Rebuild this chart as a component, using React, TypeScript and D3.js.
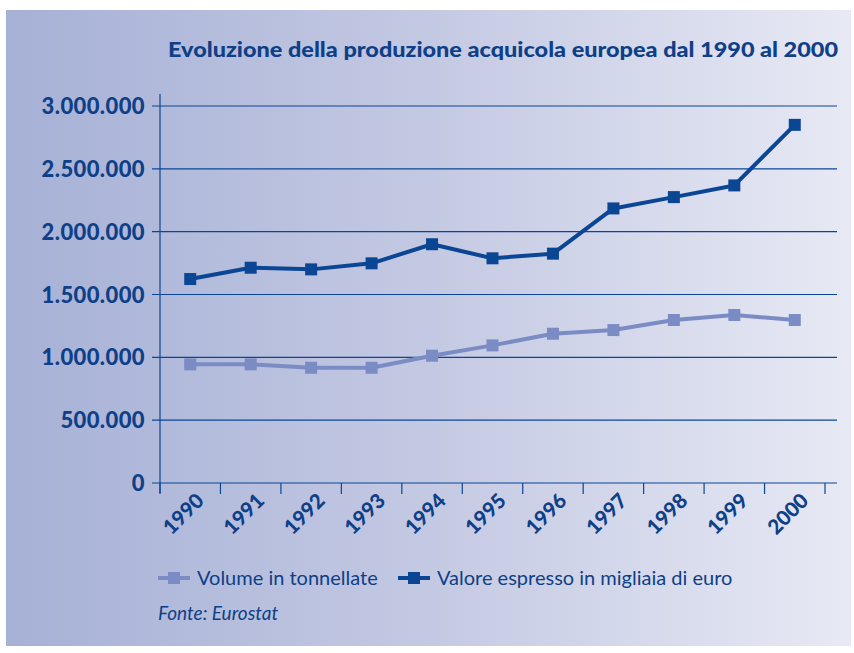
import React from "react";
import * as d3 from "d3";

const years = ["1990","1991","1992","1993","1994","1995","1996","1997","1998","1999","2000"];
const volume = [944000, 944000, 917000, 917000, 1013000, 1095000, 1188000, 1217000, 1297000, 1337000, 1297000];
const valore = [1623000, 1713000, 1700000, 1748000, 1900000, 1788000, 1825000, 2185000, 2275000, 2368000, 2850000];
const yTicks = [0, 500000, 1000000, 1500000, 2000000, 2500000, 3000000];
const seriesNames = ["Volume in tonnellate", "Valore espresso in migliaia di euro"];
const title = "Evoluzione della produzione acquicola europea dal 1990 al 2000";
const source = "Fonte: Eurostat";

const W = 854, H = 653;
const TEXT = "#0e3f87";
const DARK = "#0a4694";
const LIGHT = "#7b8cc4";
const FONT = "Lato, 'Open Sans', sans-serif";

export default function App() {
  const x0 = 160, x1 = 825;
  const xBand = d3.scaleBand<string>().domain(years).range([x0, x1]).paddingInner(0).paddingOuter(0);
  const y = d3.scaleLinear().domain([0, 3000000]).range([483, 106]);
  const cx = (i: number) => (xBand(years[i]) as number) + xBand.bandwidth() / 2;
  const line = d3.line<number>().x((_, i) => cx(i)).y(d => y(d));
  const fmt = (v: number) => d3.format(",")(v).replace(/,/g, ".");
  const tickXs = years.map(yr => (xBand(yr) as number)).concat([x1]);

  const series = [
    { data: volume, color: LIGHT },
    { data: valore, color: DARK },
  ];

  return (
    <svg width={W} height={H} style={{ position: "absolute", left: 0, top: 0 }}>
      <defs>
        <linearGradient id="bg" x1="0" x2="1" y1="0" y2="0">
          <stop offset="0" stopColor="#a6b1d6" />
          <stop offset="0.5" stopColor="#c4c9e3" />
          <stop offset="1" stopColor="#e7e9f4" />
        </linearGradient>
      </defs>
      <rect x={0} y={0} width={W} height={H} fill="#ffffff" />
      <rect x={6} y={10} width={845} height={636} fill="url(#bg)" />
      <text x={838} y={57} textAnchor="end" fontFamily={FONT} fontWeight={900} fontSize={20} textLength={670} lengthAdjust="spacingAndGlyphs" fill={TEXT}>{title}</text>

      {yTicks.map(t => (
        <g key={t}>
          <line x1={152} x2={837} y1={y(t)} y2={y(t)} stroke={DARK} strokeWidth={1.2} />
          <text x={145} y={y(t) + 8} textAnchor="end" fontFamily={FONT} fontWeight={900} fontSize={22} letterSpacing={0.4} fill={TEXT}>{fmt(t)}</text>
        </g>
      ))}
      <line x1={x0} x2={x0} y1={94} y2={493} stroke={DARK} strokeWidth={1.2} />
      {tickXs.map((tx, i) => (
        <line key={i} x1={tx} x2={tx} y1={483} y2={494} stroke={DARK} strokeWidth={1.2} />
      ))}
      {years.map((yr, i) => (
        <text key={yr} transform={`translate(${cx(i) + 15},${502}) rotate(-45)`} textAnchor="end" fontFamily={FONT} fontWeight={900} fontSize={20.5} fill={TEXT}>{yr}</text>
      ))}

      {series.map((s, si) => (
        <g key={si}>
          <path d={line(s.data) as string} fill="none" stroke={s.color} strokeWidth={4} strokeLinejoin="round" />
          {s.data.map((v, i) => (
            <rect key={i} x={cx(i) - 6} y={y(v) - 6} width={12} height={12} fill={s.color} />
          ))}
        </g>
      ))}

      {seriesNames.map((name, i) => {
        const lx = i === 0 ? 158 : 398;
        const color = i === 0 ? LIGHT : DARK;
        return (
          <g key={name}>
            <line x1={lx} x2={lx + 32} y1={578} y2={578} stroke={color} strokeWidth={4} />
            <rect x={lx + 10} y={572} width={12} height={12} fill={color} />
            <text x={lx + 39} y={585} fontFamily={FONT} fontSize={20} fill={TEXT}>{name}</text>
          </g>
        );
      })}
      <text x={158} y={620} fontFamily={FONT} fontStyle="italic" fontSize={19} fill={TEXT}>{source}</text>
    </svg>
  );
}
